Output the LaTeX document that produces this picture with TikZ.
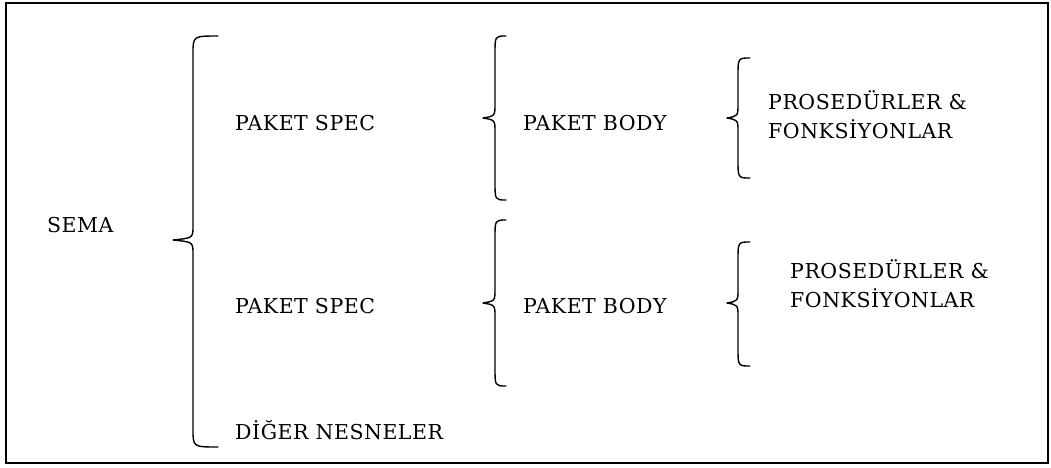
\documentclass[tikz,border=0pt]{standalone}
\usepackage{fontspec}
\setmainfont{DejaVu Serif}[LetterSpace=2.5]
\newcommand\mybrace[6]{% xend, xline, xtip, ytop, ymid, ybot
  \draw[bracestyle] (#1,#4) .. controls (#2,#4) .. (#2,#4+18)
    -- (#2,#5-14) .. controls (#2,#5-2) .. (#3,#5)
    .. controls (#2,#5+2) .. (#2,#5+14)
    -- (#2,#6-18) .. controls (#2,#6) .. (#1,#6);}
\begin{document}
\begin{tikzpicture}[x=1pt,y=-1pt,
  lbl/.style={anchor=west,inner sep=0pt,font=\fontsize{20.5}{29}\selectfont,align=left},
  bracestyle/.style={line width=1.4pt,line cap=round,line join=round},
  frame/.style={line width=1.5pt}]
\useasboundingbox (0,0) rectangle (1051,468);
\draw[frame] (6,3) rectangle (1048,463);
% texts
\node[lbl] (sema) at (47,225) {SEMA};
\node[lbl] (spec1) at (235,123) {PAKET SPEC};
\node[lbl] (spec2) at (235,306) {PAKET SPEC};
\node[lbl] (diger) at (235,430) {DİĞER NESNELER};
\node[lbl] (body1) at (523,123) {PAKET BODY};
\node[lbl] (body2) at (523,306) {PAKET BODY};
\node[lbl] (proc1) at (768,115) {PROSEDÜRLER \&\\FONKSİYONLAR};
\node[lbl] (proc2) at (790,284) {PROSEDÜRLER \&\\FONKSİYONLAR};
% braces
\mybrace{218}{193}{173}{36}{240}{447}
\mybrace{506}{495}{483}{36}{118}{200}
\mybrace{506}{495}{483}{220}{303}{386}
\mybrace{750}{738}{727}{58}{118}{178}
\mybrace{750}{738}{727}{242}{303}{366}
\end{tikzpicture}
\end{document}
